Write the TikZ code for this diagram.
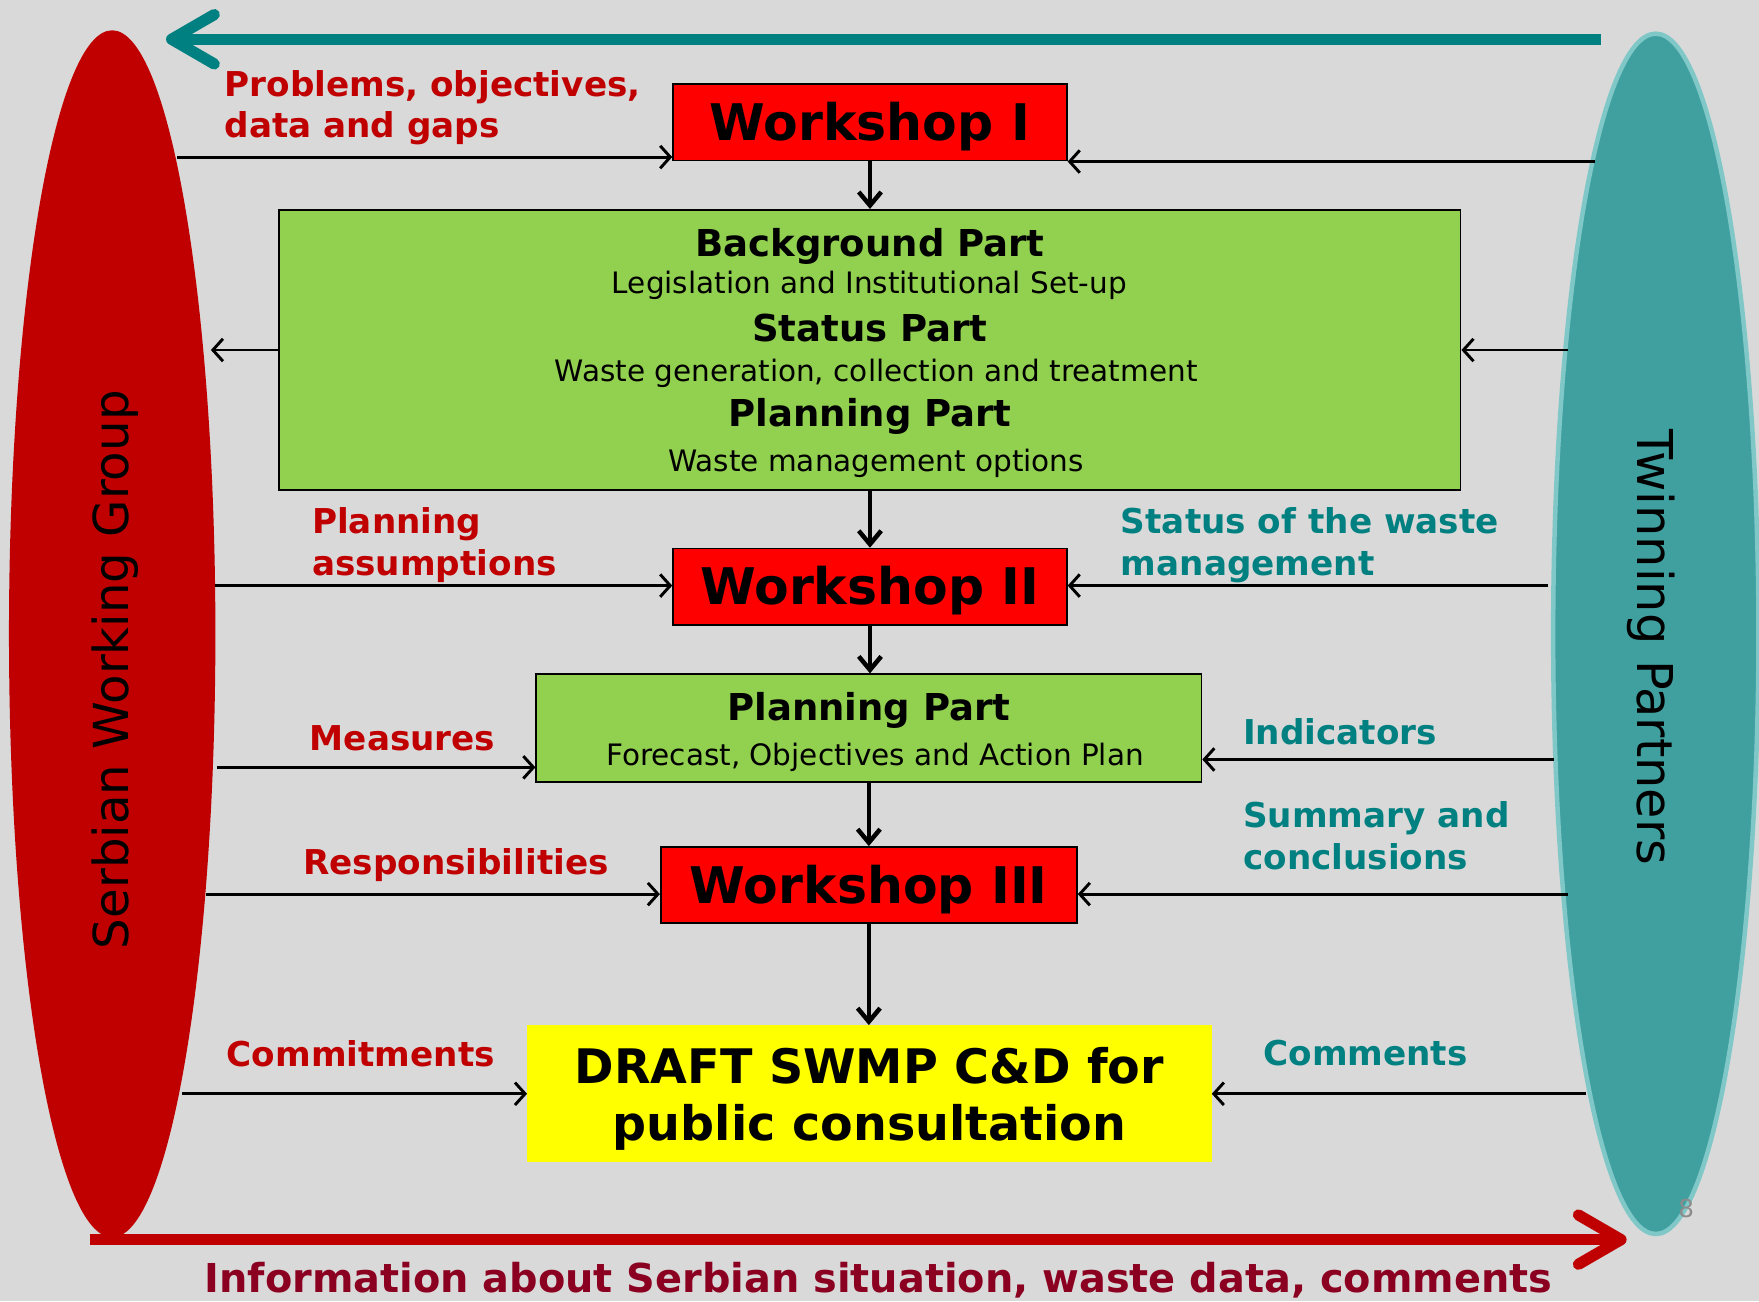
\documentclass[tikz,border=0pt]{standalone}
\usepackage{fontspec}
\setmainfont{DejaVu Sans}
\usetikzlibrary{shapes.geometric,arrows.meta}
\definecolor{slide}{HTML}{D9D9D9}
\definecolor{swgred}{HTML}{C00000}
\definecolor{twpteal}{HTML}{40A0A0}
\definecolor{twplight}{HTML}{80C8C8}
\definecolor{darkteal}{HTML}{008080}
\definecolor{infored}{HTML}{8B0020}
\definecolor{wsred}{HTML}{FF0000}
\definecolor{partgreen}{HTML}{92D050}
\definecolor{draftyellow}{HTML}{FFFF00}
\tikzset{
  wsbox/.style={draw=black, line width=1.5pt, fill=wsred, minimum height=68, inner sep=0,
    text depth=2pt, font=\fontsize{45}{52}\selectfont\bfseries},
  partbox/.style={draw=black, line width=1.5pt, fill=partgreen, inner sep=0},
  parthead/.style={inner sep=0, font=\fontsize{33}{38}\selectfont\bfseries},
  partsub/.style={inner sep=0, font=\fontsize{26.3}{30}\selectfont},
  redlbl/.style={inner sep=0, anchor=west, align=left, text=swgred,
    font=\fontsize{30.5}{37}\selectfont\bfseries},
  teallbl/.style={redlbl, text=darkteal},
  flow/.style={line width=4pt, -{Straight Barb[length=12pt,width=20pt]}},
  side/.style={line width=2.6pt, -{Straight Barb[length=9pt,width=20pt]}},
  bigarrow/.style={line width=10pt, -{Straight Barb[length=38pt,width=44pt,round]}}
}
\begin{document}
\begin{tikzpicture}[x=1pt,y=-1pt]
\fill[slide] (0,0) rectangle (1568,1160);
\useasboundingbox (0,0) rectangle (1568,1160);

% the two groups
\node[ellipse, fill=swgred, minimum width=184, minimum height=1076, inner sep=0] (swg) at (100,565) {};
\node[rotate=90, font=\fontsize{43}{50}\selectfont] (swgtxt) at (103,597) {Serbian Working Group};
\node[ellipse, fill=twpteal, draw=twplight, line width=4pt, minimum width=183, minimum height=1070, inner sep=0] (twp) at (1476,565) {};
\node[rotate=-90, font=\fontsize{44}{50}\selectfont] (twptxt) at (1472,577) {Twinning Partners};

% big arrows
\coordinate (topR) at (1427,35);
\coordinate (topL) at (148,35);
\draw[bigarrow, darkteal] (topR) -- (topL);
\coordinate (botL) at (80,1105);
\coordinate (botR) at (1450,1105);
\draw[bigarrow, swgred] (botL) -- (botR);
\node[text=infored, font=\fontsize{35.5}{40}\selectfont\bfseries] (info) at (783,1141)
  {Information about Serbian situation, waste data, comments};
\node[text=black!45, font=\fontsize{22}{26}\selectfont] (pgno) at (1503,1077) {8};

% main chain
\node[wsbox, minimum width=351] (ws1) at (775.5,109) {Workshop I};
\node[partbox, minimum width=1053, minimum height=250] (bgpart) at (775.5,312) {};
\node[parthead] (bgh) at (775.5,220) {Background Part};
\node[partsub] (bgs) at (775,254) {Legislation and Institutional Set-up};
\node[parthead] (sth) at (775.5,292) {Status Part};
\node[partsub] (sts) at (781,333) {Waste generation, collection and treatment};
\node[parthead] (plh) at (775.5,371) {Planning Part};
\node[partsub] (pls) at (781,413) {Waste management options};
\node[wsbox, minimum width=351] (ws2) at (775.5,523) {Workshop II};
\node[partbox, minimum width=593, minimum height=96] (planpart) at (774.5,649) {};
\node[parthead] (pph) at (774.5,633) {Planning Part};
\node[partsub] (pps) at (780,675) {Forecast, Objectives and Action Plan};
\node[wsbox, minimum width=371] (ws3) at (774.5,789) {Workshop III};
\node[fill=draftyellow, minimum width=610, minimum height=122, inner sep=0, align=center, text depth=0pt,
  font=\fontsize{42.4}{51}\selectfont\bfseries] (draft) at (775,975) {DRAFT SWMP C\&D for\\public consultation};

\draw[flow] (ws1.south) -- (bgpart.north -| ws1.south);
\draw[flow] (bgpart.south -| ws2.north) -- (ws2.north);
\draw[flow] (ws2.south) -- (planpart.north -| ws2.south);
\draw[flow] (planpart.south) -- (ws3.north);
\draw[flow] (ws3.south) -- (draft.north -| ws3.south);

% inputs from the Serbian side
\coordinate (sl1) at (158,140);
\coordinate (sl2) at (188,312);
\coordinate (sl3) at (192,522);
\coordinate (sl4) at (193,684);
\coordinate (sl5) at (184,797);
\coordinate (sl6) at (162,975);
\draw[side] (sl1) -- (sl1 -| ws1.west);
\draw[side] (sl2 -| bgpart.west) -- (sl2);
\draw[side] (sl3) -- (sl3 -| ws2.west);
\draw[side] (sl4) -- (sl4 -| planpart.west);
\draw[side] (sl5) -- (sl5 -| ws3.west);
\draw[side] (sl6) -- (sl6 -| draft.west);

% inputs from the twinning side
\coordinate (tp1) at (1422,144);
\coordinate (tp2) at (1398,312);
\coordinate (tp3) at (1380,522);
\coordinate (tp4) at (1385,677);
\coordinate (tp5) at (1398,797);
\coordinate (tp6) at (1414,975);
\draw[side] (tp1) -- (tp1 -| ws1.east);
\draw[side] (tp2) -- (tp2 -| bgpart.east);
\draw[side] (tp3) -- (tp3 -| ws2.east);
\draw[side] (tp4) -- (tp4 -| planpart.east);
\draw[side] (tp5) -- (tp5 -| ws3.east);
\draw[side] (tp6) -- (tp6 -| draft.east);

% labels
\node[redlbl] (l1) at (200,96) {Problems, objectives,\\data and gaps};
\node[redlbl] (l3) at (278,486) {Planning\\assumptions};
\node[redlbl] (l4) at (276,658) {Measures};
\node[redlbl] (l5) at (270,771) {Responsibilities};
\node[redlbl] (l6) at (202,939) {Commitments};
\node[teallbl] (r3) at (999,486) {Status of the waste\\management};
\node[teallbl] (r4) at (1108,652) {Indicators};
\node[teallbl] (r5) at (1108,745) {Summary and\\conclusions};
\node[teallbl] (r6) at (1126,939) {Comments};
\end{tikzpicture}
\end{document}
